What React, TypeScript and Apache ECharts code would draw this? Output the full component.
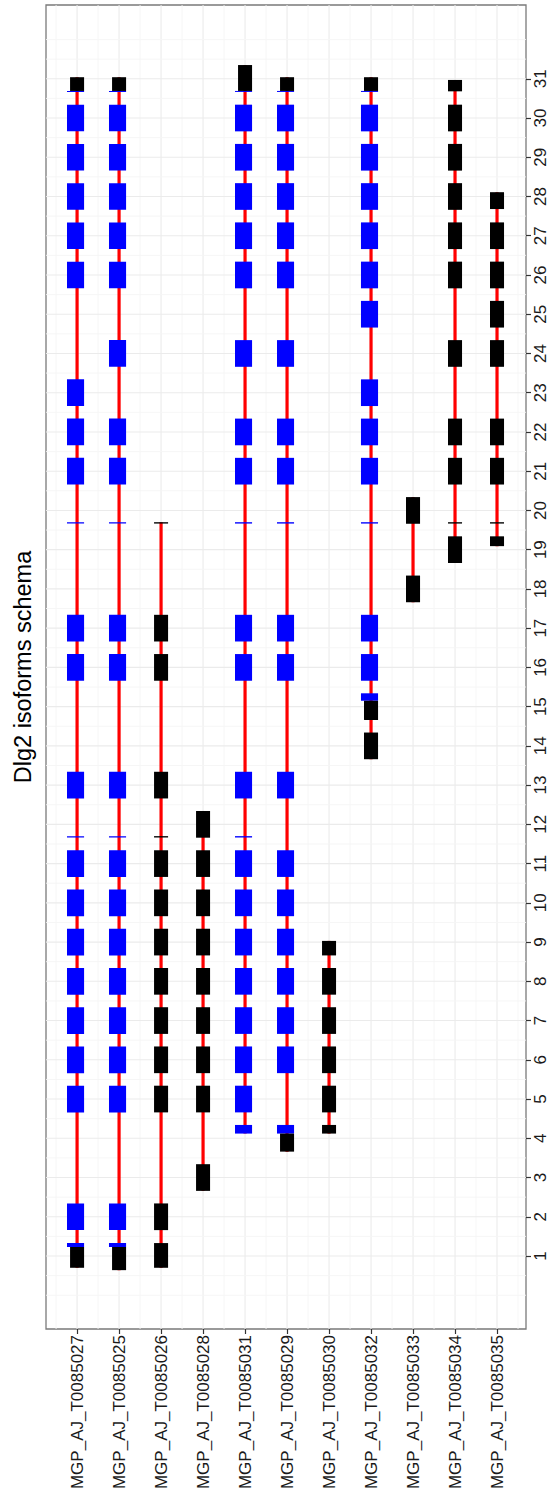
import React, { useEffect, useRef } from 'react';
import * as echarts from 'echarts';

// ---------- data ----------
const isoforms = [
  'MGP_AJ_T0085027', 'MGP_AJ_T0085025', 'MGP_AJ_T0085026', 'MGP_AJ_T0085028',
  'MGP_AJ_T0085031', 'MGP_AJ_T0085029', 'MGP_AJ_T0085030', 'MGP_AJ_T0085032',
  'MGP_AJ_T0085033', 'MGP_AJ_T0085034', 'MGP_AJ_T0085035',
];
const isoformTicks = [0, 1, 2, 3, 4, 5, 6, 7, 8, 9, 10];
const exonTicks = [1, 2, 3, 4, 5, 6, 7, 8, 9, 10, 11, 12, 13, 14, 15, 16, 17, 18, 19, 20, 21, 22, 23, 24, 25, 26, 27, 28, 29, 30, 31];

// full-length coding exons (blue), by exon number
const cdsExons = [
  [2, 5, 6, 7, 8, 9, 10, 11, 13, 16, 17, 21, 22, 23, 26, 27, 28, 29, 30],
  [2, 5, 6, 7, 8, 9, 10, 11, 13, 16, 17, 21, 22, 24, 26, 27, 28, 29, 30],
  [],
  [],
  [5, 6, 7, 8, 9, 10, 11, 13, 16, 17, 21, 22, 24, 26, 27, 28, 29, 30],
  [6, 7, 8, 9, 10, 11, 13, 16, 17, 21, 22, 24, 26, 27, 28, 29, 30],
  [],
  [16, 17, 21, 22, 23, 25, 26, 27, 28, 29, 30],
  [],
  [],
  [],
];
// full-length untranslated exons (black), by exon number
const utrExons = [
  [],
  [],
  [2, 5, 6, 7, 8, 9, 10, 11, 13, 16, 17],
  [3, 5, 6, 7, 8, 9, 10, 11, 12],
  [],
  [],
  [5, 6, 7, 8],
  [14],
  [18, 20],
  [19, 21, 22, 24, 26, 27, 28, 29, 30],
  [21, 22, 24, 25, 26, 27],
];
// partial coding pieces [start, end]
const cdsParts = [
  [[1.23, 1.33], [11.665, 11.70], [19.665, 19.70], [30.665, 30.69]],
  [[1.23, 1.33], [11.665, 11.70], [19.665, 19.70], [30.665, 30.69]],
  [],
  [],
  [[4.12, 4.34], [11.665, 11.70], [19.665, 19.70], [30.665, 30.69]],
  [[4.12, 4.34], [19.665, 19.70], [30.665, 30.69]],
  [],
  [[15.15, 15.34], [19.665, 19.70], [30.665, 30.69]],
  [],
  [],
  [],
];
// partial untranslated pieces [start, end]
const utrParts = [
  [[0.70, 1.23], [30.69, 31.04]],
  [[0.64, 1.23], [30.69, 31.04]],
  [[0.70, 1.33], [11.665, 11.70], [19.665, 19.70]],
  [],
  [[30.69, 31.35]],
  [[3.66, 4.12], [30.69, 31.04]],
  [[4.12, 4.34], [8.66, 9.03]],
  [[14.66, 15.15], [30.69, 31.04]],
  [],
  [[19.665, 19.70], [30.68, 30.97]],
  [[19.09, 19.34], [19.665, 19.70], [27.68, 28.11]],
];
const exonHalf = 0.34;

// ---------- build tables ----------
const exonData: number[][] = [];
const intronData: number[][] = [];
isoforms.forEach((_, i) => {
  const segs: number[][] = [];
  cdsExons[i].forEach((n) => segs.push([i, n - exonHalf, n + exonHalf, 1]));
  utrExons[i].forEach((n) => segs.push([i, n - exonHalf, n + exonHalf, 0]));
  cdsParts[i].forEach((p) => segs.push([i, p[0], p[1], 1]));
  utrParts[i].forEach((p) => segs.push([i, p[0], p[1], 0]));
  let lo = Infinity, hi = -Infinity;
  segs.forEach((s) => { lo = Math.min(lo, s[1]); hi = Math.max(hi, s[2]); });
  intronData.push([i, lo, hi]);
  segs.forEach((s) => exonData.push(s));
});

const gridData: number[][] = [];
isoformTicks.forEach((v) => gridData.push([v, 0, 1]));
isoformTicks.forEach((v) => gridData.push([v - 0.5, 0, 0]));
gridData.push([isoformTicks[isoformTicks.length - 1] + 0.5, 0, 0]);
exonTicks.forEach((v) => gridData.push([v, 1, 1]));
gridData.push([exonTicks[0] - 1, 1, 0]);
exonTicks.forEach((v) => gridData.push([v - 0.5, 1, 0]));
gridData.push([exonTicks[exonTicks.length - 1] + 0.5, 1, 0]);
gridData.push([exonTicks[exonTicks.length - 1] + 1, 1, 0]);

const FONT = 'Liberation Sans, Arial, Helvetica, sans-serif';

export default function App() {
  const ref = useRef<HTMLDivElement>(null);
  useEffect(() => {
    const chart = echarts.init(ref.current!, null, { renderer: 'svg' });
    const option: any = {
      animation: false,
      backgroundColor: '#ffffff',
      grid: {
        left: 46, top: 5, width: 480, height: 1324,
        show: true, borderColor: '#7a7a7a', borderWidth: 1.3, backgroundColor: 'transparent',
        containLabel: false,
      },
      xAxis: {
        type: 'value', min: -0.74, max: 10.69, position: 'bottom',
        axisLine: { show: false, onZero: false },
        splitLine: { show: false },
        axisTick: { show: true, customValues: isoformTicks, length: 5, lineStyle: { color: '#333', width: 1.2 } },
        axisLabel: {
          customValues: isoformTicks, rotate: 90, margin: 6, fontSize: 17, color: '#1a1a1a',
          fontFamily: FONT,
          formatter: (v: number) => isoforms[Math.round(v)] ?? '',
        },
      },
      yAxis: {
        type: 'value', min: -0.86, max: 32.88, position: 'right',
        axisLine: { show: false, onZero: false },
        splitLine: { show: false },
        axisTick: { show: true, customValues: exonTicks, length: 5, lineStyle: { color: '#333', width: 1.2 } },
        axisLabel: {
          customValues: exonTicks, rotate: 90, margin: 6, fontSize: 17, color: '#1a1a1a',
          fontFamily: FONT,
          formatter: (v: number) => String(Math.round(v)),
        },
      },
      graphic: [{
        type: 'text', x: 23, y: 667, rotation: Math.PI / 2,
        style: {
          text: 'Dlg2 isoforms schema', fontSize: 23.5, fontFamily: FONT, fill: '#000',
          align: 'center', verticalAlign: 'middle', textAlign: 'center', textVerticalAlign: 'middle',
        },
      }],
      series: [
        {
          type: 'custom', name: 'grid', z: 1, silent: true, data: gridData,
          renderItem: (params: any, api: any) => {
            const v = api.value(0), dir = api.value(1), major = api.value(2);
            const cs = params.coordSys;
            const style = { stroke: major ? '#EBEBEB' : '#F5F5F5', lineWidth: major ? 1.1 : 0.9 };
            if (dir === 0) {
              const p = api.coord([v, 0]);
              return { type: 'line', shape: { x1: p[0], y1: cs.y, x2: p[0], y2: cs.y + cs.height }, style };
            }
            const p = api.coord([0, v]);
            return { type: 'line', shape: { x1: cs.x, y1: p[1], x2: cs.x + cs.width, y2: p[1] }, style };
          },
        },
        {
          type: 'custom', name: 'introns', z: 2, silent: true, data: intronData,
          renderItem: (params: any, api: any) => {
            const i = api.value(0);
            const a = api.coord([i, api.value(1)]);
            const b = api.coord([i, api.value(2)]);
            return { type: 'line', shape: { x1: a[0], y1: a[1], x2: b[0], y2: b[1] }, style: { stroke: '#FF0000', lineWidth: 3.2 } };
          },
        },
        {
          type: 'custom', name: 'exons', z: 3, silent: true, data: exonData,
          renderItem: (params: any, api: any) => {
            const i = api.value(0), s = api.value(1), e = api.value(2), k = api.value(3);
            const left = k ? -0.24 : -0.167;
            const right = 0.167;
            const p1 = api.coord([i + left, e]);
            const p2 = api.coord([i + right, s]);
            return {
              type: 'rect',
              shape: { x: p1[0], y: p1[1], width: p2[0] - p1[0], height: Math.max(1, p2[1] - p1[1]) },
              style: { fill: k ? '#0000FF' : '#000000' },
            };
          },
        },
      ],
    };
    chart.setOption(option);
    return () => chart.dispose();
  }, []);
  return (
    <div
      ref={ref}
      style={{ position: 'absolute', left: 0, top: 0, width: 556, height: 1501, background: '#fff' }}
    />
  );
}
